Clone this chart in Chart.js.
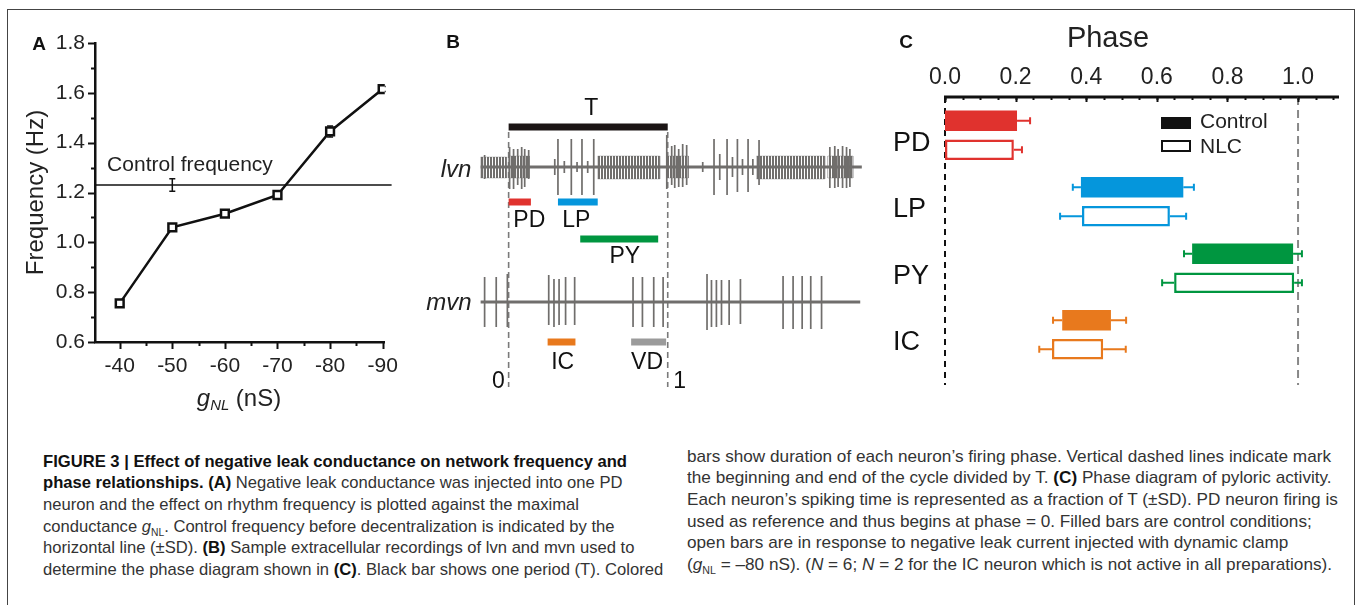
<!DOCTYPE html>
<html>
<head>
<meta charset="utf-8">
<script src="https://cdn.jsdelivr.net/npm/chart.js@4.4.1/dist/chart.umd.min.js"></script>
<style>
  body { margin:0; width:1357px; height:605px; overflow:hidden; position:relative; background:#fff;
         font-family:"Liberation Sans", Arial, sans-serif; color:#111; }
  .frame { position:absolute; left:7px; top:9px; width:1346px; height:700px; border:1px solid #444; border-bottom:0; }
  canvas { position:absolute; }
  .t { position:absolute; white-space:nowrap; transform:translate(-50%,-50%); line-height:1; }
  .l { position:absolute; white-space:nowrap; line-height:20px; }
  .cap { font-size:17px; color:#333; transform-origin:0 50%; }
  .cap b { color:#111; }
  sub { font-size:62%; vertical-align:-4px; line-height:0; }
  .sw { position:absolute; box-sizing:border-box; }
</style>
</head>
<body>
<div class="frame"></div>

<canvas id="chartA" width="400" height="400" style="left:10px;top:20px"></canvas>
<canvas id="chartB" width="450" height="310" style="left:430px;top:90px"></canvas>
<canvas id="chartC" width="470" height="400" style="left:880px;top:10px"></canvas>

<!-- panel letters and free text -->
<div class="t" style="left:39px;top:43px;font-size:19px;font-weight:bold">A</div>
<div class="t" style="left:453px;top:41px;font-size:19px;font-weight:bold">B</div>
<div class="t" style="left:906px;top:41px;font-size:19px;font-weight:bold">C</div>
<div class="t" style="left:190px;top:163px;font-size:21px;color:#222">Control frequency</div>
<div class="t" style="left:239px;top:398px;font-size:24px;color:#222"><i>g</i><sub><i>NL</i></sub> (nS)</div>
<div class="t" style="left:456px;top:169px;font-size:24px;font-style:italic;color:#222">lvn</div>
<div class="t" style="left:449px;top:302px;font-size:24px;font-style:italic;color:#222">mvn</div>
<div class="t" style="left:1108px;top:37px;font-size:29px;color:#222">Phase</div>

<div class="sw" style="left:1161px;top:117px;width:30px;height:12px;background:#111"></div>
<div class="sw" style="left:1161px;top:140px;width:30px;height:12px;border:2px solid #111"></div>
<div class="l" style="left:1200px;top:111px;font-size:21px;color:#222">Control</div>
<div class="l" style="left:1200px;top:136px;font-size:21px;color:#222">NLC</div>

<!-- caption -->
<div class="l cap capL" style="left:43px;top:452px"><b>FIGURE 3 | Effect of negative leak conductance on network frequency and</b></div>
<div class="l cap capL" style="left:43px;top:473px"><b>phase relationships. (A)</b> Negative leak conductance was injected into one PD</div>
<div class="l cap capL" style="left:43px;top:495px">neuron and the effect on rhythm frequency is plotted against the maximal</div>
<div class="l cap capL" style="left:43px;top:517px">conductance <i>g</i><sub>NL</sub>. Control frequency before decentralization is indicated by the</div>
<div class="l cap capL" style="left:43px;top:538px">horizontal line (±SD). <b>(B)</b> Sample extracellular recordings of lvn and mvn used to</div>
<div class="l cap capL" style="left:43px;top:560px">determine the phase diagram shown in <b>(C)</b>. Black bar shows one period (T). Colored</div>

<div class="l cap capR" style="left:687px;top:447px">bars show duration of each neuron’s firing phase. Vertical dashed lines indicate mark</div>
<div class="l cap capR" style="left:687px;top:468px">the beginning and end of the cycle divided by T. <b>(C)</b> Phase diagram of pyloric activity.</div>
<div class="l cap capR" style="left:687px;top:490px">Each neuron’s spiking time is represented as a fraction of T (±SD). PD neuron firing is</div>
<div class="l cap capR" style="left:687px;top:512px">used as reference and thus begins at phase = 0. Filled bars are control conditions;</div>
<div class="l cap capR" style="left:687px;top:533px">open bars are in response to negative leak current injected with dynamic clamp</div>
<div class="l cap capR" style="left:687px;top:555px">(<i>g</i><sub>NL</sub> = –80 nS). (<i>N</i> = 6; <i>N</i> = 2 for the IC neuron which is not active in all preparations).</div>

<script>
// ---- panel A: frequency vs negative leak conductance
const G_NL = [-40, -50, -60, -70, -80, -90];
const FREQ = [0.755, 1.06, 1.115, 1.19, 1.445, 1.615];
const FREQ_SD = [0.012, 0.012, 0.012, 0.008, 0.022, 0.01];
const CONTROL_FREQ = 1.23;
const CONTROL_SD = 0.025;
const CONTROL_AT = -50;
const A_X_TICKS = [-40, -50, -60, -70, -80, -90];
const A_Y_TICKS = [0.6, 0.8, 1.0, 1.2, 1.4, 1.6, 1.8];

// ---- panel B: recordings (phase, height above baseline, depth below)
const LVN_SPIKES = [
  [-0.151, 12, 12],
  [0.006, 20, 22], [0.031, 18, 22], [0.057, 18, 18], [0.082, 20, 22], [0.101, 18, 20], [0.126, 17, 12],
  [0.29, 8, 8], [0.31, 28, 28], [0.35, 6, 6], [0.394, 28, 28], [0.43, 5, 5], [0.461, 28, 28], [0.497, 6, 6], [0.535, 28, 28],
  [0.994, 32, 22], [1.025, 21, 18], [1.044, 22, 21], [1.069, 18, 20], [1.094, 23, 20], [1.119, 22, 18],
  [1.22, 5, 5], [1.291, 28, 28], [1.327, 13, 13], [1.373, 28, 28], [1.407, 10, 10], [1.438, 28, 25],
  [1.47, 8, 8], [1.505, 28, 25], [1.535, 8, 8], [1.574, 27, 18],
  [2.019, 20, 21], [2.05, 21, 21], [2.071, 18, 20], [2.099, 21, 21], [2.124, 20, 21], [2.145, 18, 20]
];
// dense firing stretches: start, end, height, depth
const LVN_BURSTS = [
  [-0.176, -0.013, 10, 11], [0.0, 0.13, 11, 11], [0.56, 0.95, 11, 12],
  [0.994, 1.13, 11, 11], [1.558, 1.987, 11, 12], [2.006, 2.164, 11, 11]
];
const MVN_SPIKES = [
  [-0.151, 25, 25], [-0.078, 25, 25], [-0.008, 28, 25],
  [0.252, 27, 23], [0.285, 23, 25], [0.317, 23, 23], [0.358, 25, 23], [0.415, 25, 23],
  [0.782, 25, 25], [0.841, 25, 25], [0.912, 25, 25], [0.971, 25, 25],
  [1.247, 28, 28], [1.275, 22, 25], [1.306, 22, 25], [1.338, 22, 23], [1.386, 22, 23], [1.457, 23, 22],
  [1.725, 26, 27], [1.788, 26, 27], [1.845, 26, 27], [1.899, 26, 27], [1.967, 26, 27]
];
const LVN_SPAN = [-0.176, 2.22];
const MVN_SPAN = [-0.176, 2.21];
const B_BARS = ['T', 'PD', 'LP', 'PY', 'IC', 'VD'];
const B_BAR_START = [0, 0, 0.31, 0.45, 0.245, 0.77];
const B_BAR_END = [1, 0.14, 0.56, 0.94, 0.42, 0.99];

// ---- panel C: phase diagram
const NEURONS = ['PD', 'LP', 'PY', 'IC'];
const CTRL_ON = [0.0, 0.385, 0.700, 0.332];
const CTRL_OFF = [0.204, 0.675, 0.986, 0.470];
const CTRL_ON_SD = [0, 0.023, 0.023, 0.026];
const CTRL_OFF_SD = [0.037, 0.030, 0.025, 0.043];
const NLC_ON = [0.0, 0.388, 0.649, 0.303];
const NLC_OFF = [0.195, 0.637, 0.989, 0.448];
const NLC_ON_SD = [0, 0.062, 0.034, 0.036];
const NLC_OFF_SD = [0.023, 0.046, 0.022, 0.064];
const C_TICKS = [0, 0.2, 0.4, 0.6, 0.8, 1.0];

// ---- styles / layout
const INK = '#111';
const TRACE = 'rgb(112,110,108)';
const N_COLORS = { PD: '#e0322e', LP: '#0596dc', PY: '#009640', IC: '#e8791d', VD: '#9b9b9b', T: '#1b1515' };
const B_ROW = { T: 37, PD: 112, LP: 112, PY: 149, IC: 252, VD: 252, lvn: 77, mvn: 212, dashTop: 42, dashBottom: 297 };
const B_LABELS = ['T', 'PD', 'LP', 'PY', 'IC', 'VD', '0', '1'];
const B_LABEL_X = [0.52, 0.13, 0.425, 0.73, 0.34, 0.87, -0.065, 1.075];
const B_LABEL_ROW = [19, 131, 131, 167, 273, 273, 292, 292];
const C_AXIS_GAP = 5; // phase axis sits a little above the first bar group

Chart.defaults.font.family = '"Liberation Sans", Arial, sans-serif';
Chart.defaults.color = '#222';
Chart.defaults.animation = false;
Chart.defaults.plugins.legend.display = false;
Chart.defaults.plugins.tooltip.enabled = false;

// striped fill so the dense bursts read as packed spikes
function spikeTexture() {
  const c = document.createElement('canvas');
  c.width = 3; c.height = 4;
  const g = c.getContext('2d');
  g.fillStyle = 'rgba(255,255,255,0)';
  g.fillRect(0, 0, 3, 4);
  g.fillStyle = TRACE;
  g.fillRect(0, 0, 2, 4);
  return g.createPattern(c, 'repeat');
}

// small tick marks drawn from the scales (major + minor)
const tickMarks = {
  id: 'tickMarks',
  afterDraw(chart, args, opts) {
    const ctx = chart.ctx;
    ctx.save();
    ctx.strokeStyle = INK;
    ctx.lineWidth = 2;
    opts.marks.forEach(m => {
      const s = chart.scales[m.axis];
      m.values.forEach(v => {
        const p = Math.round(s.getPixelForValue(v)) + 0.5;
        ctx.beginPath();
        if (s.isHorizontal()) {
          const y0 = s.position === 'top' ? s.bottom - (m.gap || 0) : s.top;
          ctx.moveTo(p, y0); ctx.lineTo(p, y0 + m.len);
        } else {
          ctx.moveTo(s.right, p); ctx.lineTo(s.right - m.len, p);
        }
        ctx.stroke();
      });
    });
    ctx.restore();
  }
};

function mids(arr) {
  const out = [];
  for (let i = 0; i < arr.length - 1; i++) out.push((arr[i] + arr[i + 1]) / 2);
  return out;
}

// ---- A
const aErrors = {
  id: 'aErrors',
  beforeDatasetsDraw(chart) {
    const { ctx, scales: { x, y } } = chart;
    ctx.save();
    ctx.strokeStyle = INK;
    ctx.lineWidth = 1.5;
    const bar = (g, f, sd) => {
      const px = x.getPixelForValue(g), t = y.getPixelForValue(f + sd), b = y.getPixelForValue(f - sd);
      ctx.beginPath();
      ctx.moveTo(px, t); ctx.lineTo(px, b);
      ctx.moveTo(px - 3, t); ctx.lineTo(px + 3, t);
      ctx.moveTo(px - 3, b); ctx.lineTo(px + 3, b);
      ctx.stroke();
    };
    G_NL.forEach((g, i) => bar(g, FREQ[i], FREQ_SD[i]));
    bar(CONTROL_AT, CONTROL_FREQ, CONTROL_SD);
    ctx.restore();
  }
};

new Chart(document.getElementById('chartA'), {
  type: 'line',
  data: {
    datasets: [
      {
        data: G_NL.map((g, i) => ({ x: g, y: FREQ[i] })),
        borderColor: INK, borderWidth: 2.5,
        pointStyle: 'rect', pointRadius: 5.5, pointBorderWidth: 2.5,
        pointBackgroundColor: '#fff', pointBorderColor: INK
      },
      {
        data: [{ x: -35.3, y: CONTROL_FREQ }, { x: -91.7, y: CONTROL_FREQ }],
        borderColor: INK, borderWidth: 1.5, pointRadius: 0, clip: false
      }
    ]
  },
  options: {
    responsive: false,
    layout: { padding: { top: 23, right: 22, left: 0, bottom: 0 } },
    scales: {
      x: {
        type: 'linear', reverse: true, min: -90.4, max: -35.3,
        afterBuildTicks: s => { s.ticks = A_X_TICKS.map(v => ({ value: v })); },
        afterFit: s => { s.height = 78; },
        grid: { display: false, drawTicks: false },
        border: { display: true, width: 2.5, color: INK },
        ticks: { font: { size: 21 }, padding: 12, maxRotation: 0, callback: v => String(v) }
      },
      y: {
        min: 0.6, max: 1.8,
        afterBuildTicks: s => { s.ticks = A_Y_TICKS.map(v => ({ value: v })); },
        afterFit: s => { s.width = 85; },
        grid: { display: false, drawTicks: false },
        border: { display: true, width: 2.5, color: INK },
        ticks: { font: { size: 21 }, padding: 10, callback: v => Number(v).toFixed(1) },
        title: { display: true, text: 'Frequency (Hz)', font: { size: 24 }, padding: { top: 12, bottom: 0 } }
      }
    },
    plugins: {
      tickMarks: {
        marks: [
          { axis: 'x', values: A_X_TICKS, len: 7 },
          { axis: 'x', values: mids(A_X_TICKS), len: 4 },
          { axis: 'y', values: A_Y_TICKS, len: 7 },
          { axis: 'y', values: mids(A_Y_TICKS), len: 4 }
        ]
      }
    }
  },
  plugins: [tickMarks, aErrors]
});

// ---- B
const spikeLine = (spikes, base) =>
  spikes.flatMap(([p, u, d]) => [{ x: p, y: base - u }, { x: p, y: base + d }, { x: p, y: null }]);

const texture = spikeTexture();
const bDatasets = [];
B_BARS.forEach((n, i) => {
  bDatasets.push({
    data: [{ x: B_BAR_START[i], y: B_ROW[n] }, { x: B_BAR_END[i], y: B_ROW[n] }],
    borderColor: N_COLORS[n], borderWidth: 7, borderCapStyle: 'butt', pointRadius: 0
  });
});
bDatasets.push({ data: spikeLine(LVN_SPIKES, B_ROW.lvn), borderColor: TRACE, borderWidth: 1.7, pointRadius: 0, spanGaps: false });
bDatasets.push({ data: spikeLine(MVN_SPIKES, B_ROW.mvn), borderColor: TRACE, borderWidth: 1.7, pointRadius: 0, spanGaps: false });
LVN_BURSTS.forEach(([s, e, u, d]) => {
  const b = B_ROW.lvn;
  bDatasets.push({
    data: [{ x: s, y: b - u }, { x: e, y: b - u }, { x: e, y: b + d }, { x: s, y: b + d }, { x: s, y: b - u }],
    fill: 'shape', backgroundColor: texture, borderColor: 'rgba(112,110,108,0.35)', borderWidth: 1, pointRadius: 0
  });
});
bDatasets.push({ data: LVN_SPAN.map(p => ({ x: p, y: B_ROW.lvn })), borderColor: TRACE, borderWidth: 3, pointRadius: 0 });
bDatasets.push({ data: MVN_SPAN.map(p => ({ x: p, y: B_ROW.mvn })), borderColor: TRACE, borderWidth: 3, pointRadius: 0 });
[0, 1].forEach(p => {
  bDatasets.push({
    data: [{ x: p, y: B_ROW.dashTop }, { x: p, y: B_ROW.dashBottom }],
    borderColor: '#7a7a7a', borderWidth: 1.6, borderDash: [6, 4], pointRadius: 0
  });
});

const bLabels = {
  id: 'bLabels',
  afterDatasetsDraw(chart) {
    const { ctx, scales: { x, y } } = chart;
    ctx.save();
    ctx.font = '23px "Liberation Sans", Arial, sans-serif';
    ctx.fillStyle = INK;
    ctx.textAlign = 'center';
    ctx.textBaseline = 'middle';
    B_LABELS.forEach((t, i) => ctx.fillText(t, x.getPixelForValue(B_LABEL_X[i]), y.getPixelForValue(B_LABEL_ROW[i])));
    ctx.restore();
  }
};

new Chart(document.getElementById('chartB'), {
  type: 'line',
  data: { datasets: bDatasets },
  options: {
    responsive: false,
    layout: { padding: { left: 50, right: 15, top: 0, bottom: 0 } },
    scales: {
      x: { type: 'linear', min: -0.18, max: 2.24, display: false },
      y: { type: 'linear', min: 0, max: 310, reverse: true, display: false }
    }
  },
  plugins: [bLabels]
});

// ---- C
const cAxis = {
  id: 'cAxis',
  beforeDatasetsDraw(chart) {
    const { ctx, chartArea, scales: { x } } = chart;
    const top = chartArea.top - C_AXIS_GAP;
    ctx.save();
    // phase axis line
    ctx.strokeStyle = INK;
    ctx.lineWidth = 3;
    ctx.beginPath();
    ctx.moveTo(chartArea.left - 1, top);
    ctx.lineTo(chartArea.right, top);
    ctx.stroke();
    // cycle start / end
    ctx.lineWidth = 2;
    [[0, '#111'], [1, '#888']].forEach(([v, c]) => {
      const px = x.getPixelForValue(v);
      ctx.strokeStyle = c;
      ctx.setLineDash(v === 0 ? [6, 5] : [8, 5]);
      ctx.beginPath();
      ctx.moveTo(px, top);
      ctx.lineTo(px, chartArea.bottom + 17);
      ctx.stroke();
    });
    ctx.restore();
  }
};

const cErrors = {
  id: 'cErrors',
  afterDatasetsDraw(chart) {
    const { ctx, scales: { x } } = chart;
    const sets = [[CTRL_ON, CTRL_OFF, CTRL_ON_SD, CTRL_OFF_SD], [NLC_ON, NLC_OFF, NLC_ON_SD, NLC_OFF_SD]];
    ctx.save();
    ctx.lineWidth = 2;
    sets.forEach((s, d) => {
      const meta = chart.getDatasetMeta(d);
      NEURONS.forEach((n, i) => {
        const yy = meta.data[i].y;
        ctx.strokeStyle = N_COLORS[n];
        const whisk = (from, to) => {
          const a = x.getPixelForValue(from), b = x.getPixelForValue(to);
          ctx.beginPath();
          ctx.moveTo(a, yy); ctx.lineTo(b, yy);
          ctx.moveTo(b, yy - 3.5); ctx.lineTo(b, yy + 3.5);
          ctx.stroke();
        };
        if (s[2][i] > 0) whisk(s[0][i], s[0][i] - s[2][i]);
        if (s[3][i] > 0) whisk(s[1][i], s[1][i] + s[3][i]);
      });
    });
    ctx.restore();
  }
};

const cTickMinor = [];
for (let k = 0; k <= 22; k++) cTickMinor.push(k * 0.05);

new Chart(document.getElementById('chartC'), {
  type: 'bar',
  data: {
    labels: NEURONS,
    datasets: [
      {
        label: 'Control',
        data: NEURONS.map((n, i) => [CTRL_ON[i], CTRL_OFF[i]]),
        backgroundColor: NEURONS.map(n => N_COLORS[n]),
        borderWidth: 0, barPercentage: 0.71, categoryPercentage: 0.87
      },
      {
        label: 'NLC',
        data: NEURONS.map((n, i) => [NLC_ON[i], NLC_OFF[i]]),
        backgroundColor: '#fff',
        borderColor: NEURONS.map(n => N_COLORS[n]),
        borderWidth: 2.5, borderSkipped: false, barPercentage: 0.71, categoryPercentage: 0.87
      }
    ]
  },
  options: {
    indexAxis: 'y',
    responsive: false,
    layout: { padding: { left: 13, right: 11, top: 0, bottom: 42 } },
    scales: {
      x: {
        type: 'linear', position: 'top', min: 0, max: 1.116,
        afterBuildTicks: s => { s.ticks = C_TICKS.map(v => ({ value: v })); },
        afterFit: s => { s.height = 87 + C_AXIS_GAP; },
        grid: { display: false, drawTicks: false },
        border: { display: false },
        ticks: { font: { size: 23 }, padding: 6 + C_AXIS_GAP, maxRotation: 0, callback: v => Number(v).toFixed(1) }
      },
      y: {
        afterFit: s => { s.width = 52; },
        grid: { display: false, drawTicks: false },
        border: { display: false },
        ticks: { font: { size: 27 }, crossAlign: 'far', padding: 0, color: INK, labelOffset: 8 }
      }
    },
    plugins: {
      tickMarks: {
        marks: [
          { axis: 'x', values: C_TICKS, len: 5, gap: C_AXIS_GAP },
          { axis: 'x', values: cTickMinor, len: 3, gap: C_AXIS_GAP }
        ]
      }
    }
  },
  plugins: [cAxis, tickMarks, cErrors]
});

// squeeze caption lines to the condensed width of the printed figure
function fitCol(cls, target) {
  const lines = document.querySelectorAll('.' + cls);
  const w = lines[0].getBoundingClientRect().width;
  const k = target / w;
  lines.forEach(l => { l.style.transform = 'scaleX(' + k + ')'; });
}
fitCol('capL', 584);
fitCol('capR', 644);
</script>
</body>
</html>
